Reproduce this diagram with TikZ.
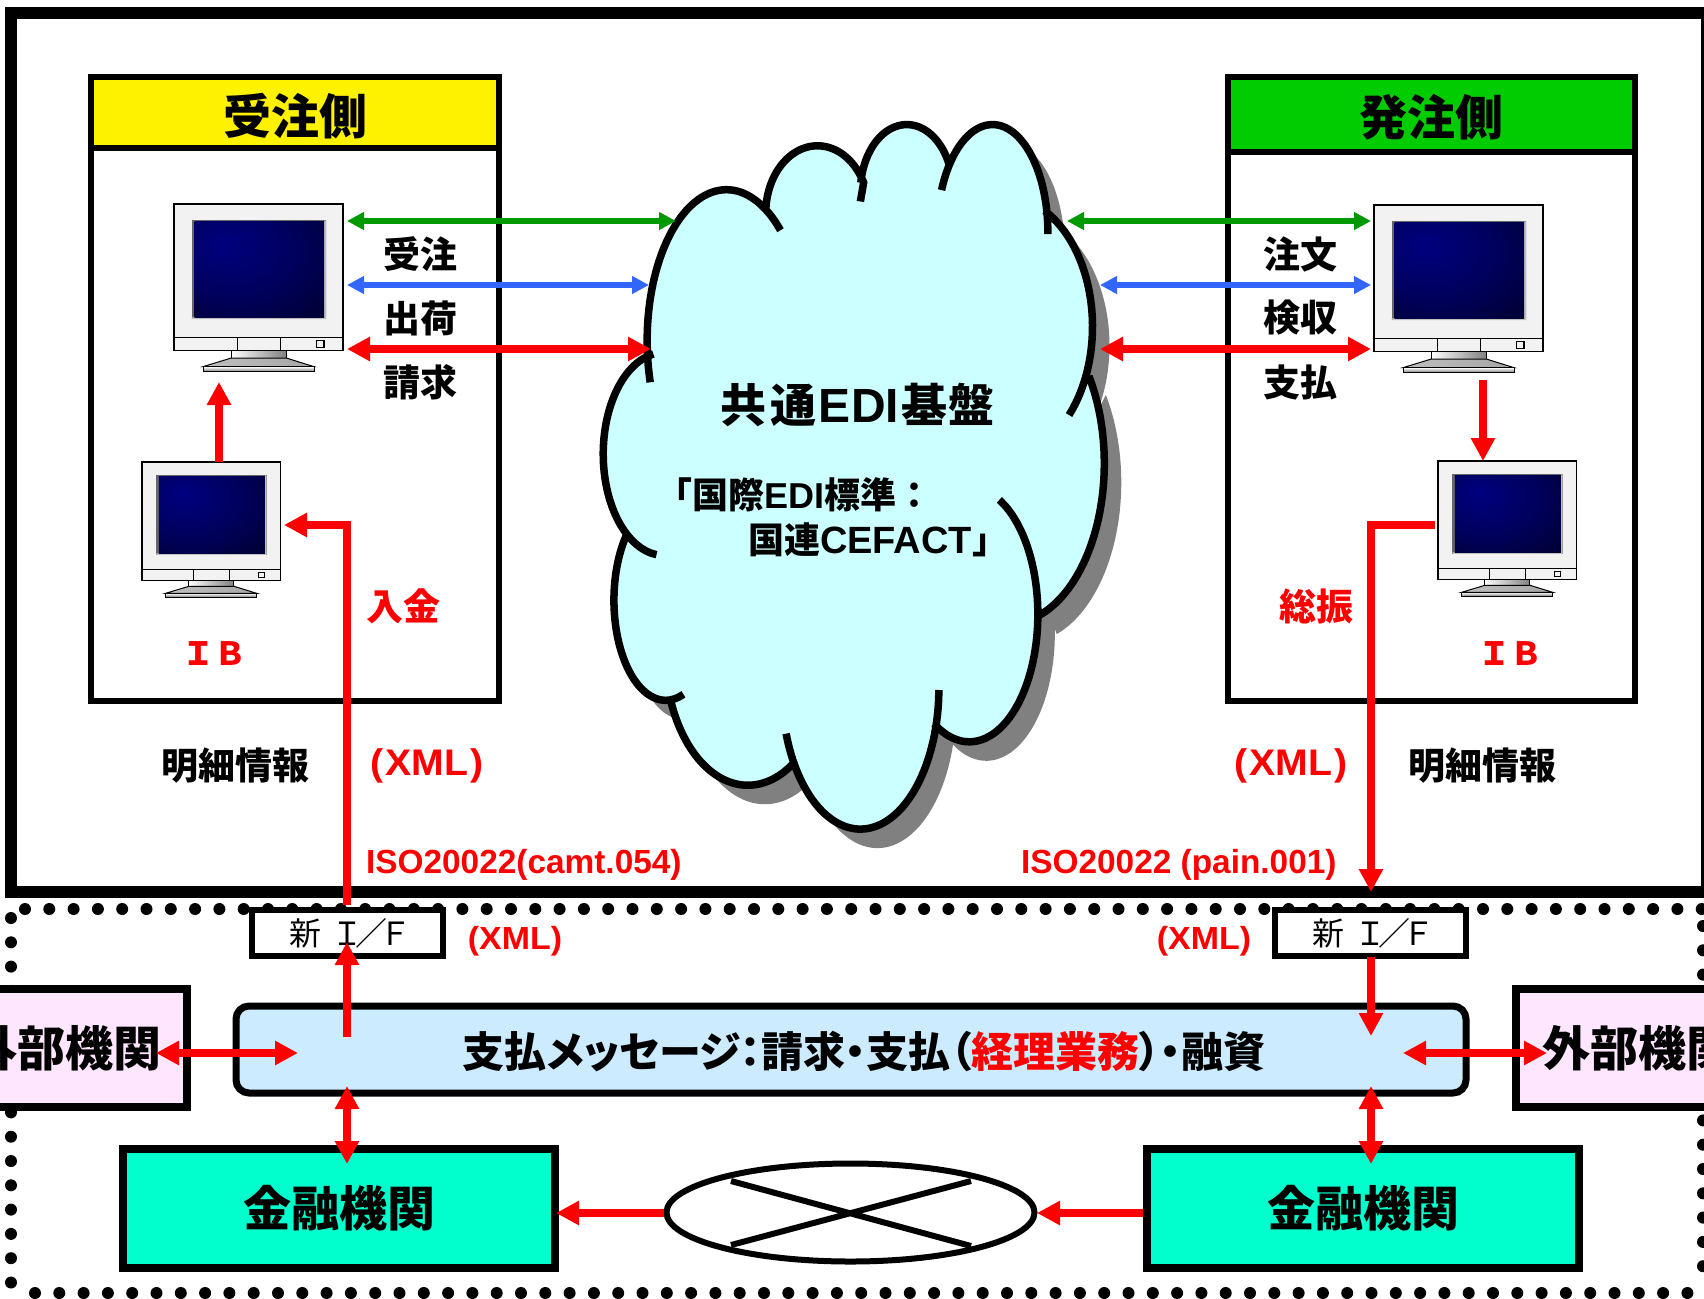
\documentclass[tikz,border=0pt]{standalone}
\usepackage{fontspec}
\setmainfont{Noto Sans CJK JP}
\newfontfamily\lat{Liberation Sans}
\newfontfamily\latw{Liberation Sans}[FakeStretch=1.06]
\newfontfamily\cjkp{Noto Sans CJK JP}[RawFeature=+palt]
\usetikzlibrary{arrows.meta,shapes.geometric}
\definecolor{bodyc}{HTML}{F2F2F2}
\definecolor{cloudc}{HTML}{CCFFFF}
\definecolor{shadowc}{HTML}{808080}
\definecolor{payc}{HTML}{CCEBFF}
\definecolor{extc}{HTML}{FFE6FF}
\definecolor{bankc}{HTML}{00FFCC}
\definecolor{sendc}{HTML}{00CC00}
\definecolor{arrg}{HTML}{009900}
\definecolor{arrb}{HTML}{3366FF}
\pgfdeclareradialshading{scrn}{\pgfpoint{-14bp}{14bp}}{rgb(0bp)=(0,0,.5);rgb(25bp)=(0,0,.36);rgb(50bp)=(0,0,.17);rgb(65bp)=(0,0,.08);rgb(100bp)=(0,0,.05)}
\newcommand\fs[1]{\fontsize{#1}{#1}\selectfont}
\tikzset{
  panel/.style={draw=black,rectangle,inner sep=0pt,outer sep=0pt,line width=3pt},
  heavybox/.style={draw=black,rectangle,inner sep=0pt,outer sep=0pt,line width=4pt,font=\fs{24}\bfseries},
  ifbox/.style={draw=black,fill=white,rectangle,inner sep=0pt,outer sep=0pt,line width=2.75pt,minimum width=95.5pt,minimum height=23pt,font=\cjkp\fs{16}},
  plain/.style={inner sep=0pt,outer sep=0pt},
  blab/.style={plain,font=\fs{18.5}\bfseries},
  rlab/.style={plain,font=\fs{18.5}\bfseries,text=red},
  iblab/.style={plain,font=\fs{16}\bfseries,text=red},
  headlab/.style={plain,font=\fs{24}\bfseries},
  xml/.style={plain,font=\latw\fs{18.5}\bfseries,text=red},
  xmls/.style={plain,font=\latw\fs{16}\bfseries,text=red},
  iso/.style={plain,font=\lat\fs{16.7}\bfseries,text=red},
  lb/.style={samples=30,smooth,variable=\t},
  green arr/.style={draw=arrg,line width=2.75pt,{Triangle[length=8.5pt,width=8.5pt]}-{Triangle[length=8.5pt,width=8.5pt]}},
  blue arr/.style={draw=arrb,line width=2.75pt,{Triangle[length=8.5pt,width=8.5pt]}-{Triangle[length=8.5pt,width=8.5pt]}},
  red two/.style={draw=red,line width=4pt,{Triangle[length=11.5pt,width=11.5pt]}-{Triangle[length=11.5pt,width=11.5pt]}},
  red one/.style={draw=red,line width=4pt,-{Triangle[length=11.5pt,width=11.5pt]}},
  dots/.style={line width=6pt,line cap=round,dash pattern=on 0pt off 12.15pt},
  monitor/.pic={
    \draw[fill=bodyc,line width=.6pt] (0,0) rectangle (507,440);
    \draw[line width=.6pt] (0,400) -- (507,400) (190,400) -- (190,440) (320,400) -- (320,440);
    \draw[fill=bodyc,line width=.6pt] (428,410) rectangle (450,430);
    \fill[black!60] (53,47) rectangle (457,345);
    \fill[black!25] (450,50) rectangle (457,345) (53,340) rectangle (457,345);
    \shade[shading=scrn] (62,53) rectangle (450,340);
    \shade[left color=white,right color=black!50,draw=black,line width=.5pt] (172,440) rectangle (337,462);
    \shade[left color=black!25,right color=black!35,draw=black,line width=.5pt] (172,462) -- (337,462) -- (420,488) -- (87,488) -- cycle;
    \shade[top color=white,bottom color=black!50,draw=black,line width=.5pt] (87,488) rectangle (420,502);
  }
}
\newcommand\cloudpath[1]{
  plot[domain=164:313,lb] ({410+222*cos(\t)},{510+320*sin(\t)}) #1
  plot[domain=183:333,lb] ({665+145*cos(\t)},{240+143*sin(\t)}) -- (785,215) #1
  plot[domain=188:337,lb] ({915+130*cos(\t)},{195+143*sin(\t)}) #1
  plot[domain=203:361,lb] ({1155+155*cos(\t)},{280+228*sin(\t)}) #1
  plot[domain=-63:43,lb] ({1190+245*cos(\t)},{480+275*sin(\t)}) #1
  plot[domain=-33:71,lb] ({1200+268*cos(\t)},{770+340*sin(\t)}) #1
  plot[domain=-64:121,lb] ({1090+192*cos(\t)},{1090+270*sin(\t)}) #1
  plot[domain=1:161,lb] ({785+220*cos(\t)},{1245+300*sin(\t)}) #1
  plot[domain=56:159,lb] ({470+232*cos(\t)},{1170+282*sin(\t)}) #1
  plot[domain=70:221,lb] ({240+145*cos(\t)},{1060+212*sin(\t)}) #1
  plot[domain=97:260,lb] ({235+170*cos(\t)},{750+215*sin(\t)})
}
\begin{document}
\begin{tikzpicture}[x=.5pt,y=-.5pt]
\useasboundingbox (0,0) rectangle (1704,1298);
\clip (0,0) rectangle (1704,1298);
\fill[white] (0,0) rectangle (1704,1298);

% dotted frame of the bank zone
\coordinate (dTL) at (25,909);   \coordinate (dTR) at (1704,909);
\coordinate (dLT) at (11,918);   \coordinate (dLB) at (11,1295);
\coordinate (dBL) at (35,1293);  \coordinate (dBR) at (1704,1293);
\coordinate (dRT) at (1703,926); \coordinate (dRB) at (1703,1290);
\draw[dots] (dTL) -- (dTR);
\draw[dots] (dLT) -- (dLB);
\draw[dots] (dBL) -- (dBR);
\draw[dots] (dRT) -- (dRB);

% outer frame
\node[draw=black,rectangle,inner sep=0pt,outer sep=0pt,line width=6pt,minimum width=848pt,minimum height=439.5pt] (outer) at (859,452.5) {};

% party panels
\node[panel,minimum width=204pt,minimum height=312pt] (panelL) at (295,389) {};
\node[panel,fill=yellow,minimum width=204pt,minimum height=35.5pt] (headL) at (295,112.5) {};
\node[headlab] (headLt) at (295,116.5) {受注側};
\node[panel,minimum width=203.5pt,minimum height=312pt] (panelR) at (1431.5,389) {};
\node[panel,fill=sendc,minimum width=203.5pt,minimum height=37.5pt] (headR) at (1431.5,114.5) {};
\node[headlab] (headRt) at (1431,117) {発注側};

% monitors
\pic[scale=.33333] at (174,204) {monitor};
\pic[xscale=.2728,yscale=.269] at (142,462) {monitor};
\pic[scale=.33333] at (1374,205) {monitor};
\pic[xscale=.2728,yscale=.269] at (1438,461) {monitor};

% cloud
\begin{scope}[shift={(597,119)},x=.17857pt,y=-.23596pt]
  \fill[shadowc] \cloudpath{--} -- cycle;
\end{scope}
\begin{scope}[shift={(580,100)},x=.17857pt,y=-.23596pt]
  \fill[cloudc] \cloudpath{--} -- cycle;
  \draw[line width=3.75pt] \cloudpath{};
\end{scope}
\node[plain,font=\fs{23}\bfseries] (edi) at (858,405) {共\kern2pt 通\kern1pt{\lat\fontsize{24}{24}\selectfont EDI}\kern1pt 基\kern1pt 盤};
\node[plain,anchor=west,font=\fs{18}\bfseries] (std1) at (656,495) {「国際{\lat EDI}標準：};
\node[plain,anchor=east,font=\fs{18}\bfseries] (std2) at (1008,540) {国連{\lat\fontsize{19}{19}\selectfont CEFACT}」};

% lower boxes
\node[ifbox] (ifL) at (347.5,933) {新\kern7pt Ｉ\kern-2pt ／\kern-2pt Ｆ};
\node[ifbox] (ifR) at (1370.5,933) {新\kern7pt Ｉ\kern-2pt ／\kern-2pt Ｆ};
\node[draw=black,fill=payc,rectangle,rounded corners=6.5pt,inner sep=0pt,outer sep=0pt,line width=3.5pt,minimum width=615pt,minimum height=43.5pt] (pay) at (851,1049.5) {};
\node[plain,font=\cjkp\fs{21}\bfseries] (paytext) at (864,1051) {支払メッセージ：請求・支払（\textcolor{red}{経理業務}）・融資};
\node[heavybox,fill=extc,minimum width=121.5pt,minimum height=59pt] (extL) at (65.5,1048) {外部機関};
\node[heavybox,fill=extc,minimum width=122pt,minimum height=59pt] (extR) at (1638,1048) {外部機関};
\node[heavybox,fill=bankc,minimum width=216pt,minimum height=59.5pt] (bankL) at (339,1208.5) {金融機関};
\node[heavybox,fill=bankc,minimum width=216pt,minimum height=59.5pt] (bankR) at (1363,1208.5) {金融機関};
\node[draw=black,fill=white,ellipse,inner sep=0pt,outer sep=0pt,line width=3pt,minimum width=184pt,minimum height=49pt] (wan) at (850.5,1212.5) {};
\coordinate (xa) at (731,1181); \coordinate (xb) at (971,1246);
\coordinate (xc) at (731,1245); \coordinate (xd) at (971,1181);
\draw[line width=3pt] (xa) -- (xb) (xc) -- (xd);

% connector ends
\coordinate (gL) at (347,221);  \coordinate (gCL) at (676,221);
\coordinate (bL) at (347,285);  \coordinate (bCL) at (649,285);
\coordinate (rL) at (347,349);  \coordinate (rCL) at (651,349);
\coordinate (gCR) at (1067,221); \coordinate (gR) at (1371,221);
\coordinate (bCR) at (1100,285); \coordinate (bR) at (1371,285);
\coordinate (rCR) at (1100,349); \coordinate (rR) at (1371,349);
\coordinate (upA) at (219,462); \coordinate (upB) at (219,382);
\coordinate (dnA) at (1483,380); \coordinate (dnB) at (1483,461);
\coordinate (ibL) at (284,525);
\coordinate (ibR) at (1435,525);
\coordinate (frameTip) at (1371,892);
\coordinate (ifLup) at (347,1037); \coordinate (ifLtip) at (347,942);
\coordinate (ifRdn) at (1371,957); \coordinate (ifRtip) at (1371,1036);
\coordinate (payLo) at (347,1086); \coordinate (bankLt) at (347,1164);
\coordinate (payRo) at (1371,1086); \coordinate (bankRt) at (1371,1164);
\coordinate (extLt) at (156,1053); \coordinate (payLt) at (298,1053);
\coordinate (extRt) at (1547,1053); \coordinate (payRt) at (1403,1053);
\coordinate (wanE) at (1037,1213); \coordinate (bankRw) at (1143,1213);
\coordinate (wanW) at (664,1213); \coordinate (bankLe) at (556,1213);
\coordinate (ifLtop) at (347,905);

% connectors
\draw[green arr] (gL) -- (gCL);
\draw[blue arr] (bL) -- (bCL);
\draw[red two] (rL) -- (rCL);
\draw[green arr] (gCR) -- (gR);
\draw[blue arr] (bCR) -- (bR);
\draw[red two] (rCR) -- (rR);
\draw[red one] (upA) -- (upB);
\draw[red one] (dnA) -- (dnB);
\draw[red one] (ifLtop) |- (ibL);
\draw[red one] (ibR) -| (frameTip);
\draw[red one] (ifLup) -- (ifLtip);
\draw[red one] (ifRdn) -- (ifRtip);
\draw[red two] (payLo) -- (bankLt);
\draw[red two] (payRo) -- (bankRt);
\draw[red two] (extLt) -- (payLt);
\draw[red two] (payRt) -- (extRt);
\draw[red one] (bankRw) -- (wanE);
\draw[red one] (wanW) -- (bankLe);

% labels
\node[blab] (t1) at (420,254) {受注};
\node[blab] (t2) at (420,318) {出荷};
\node[blab] (t3) at (420,382) {請求};
\node[blab] (t4) at (1300,254) {注文};
\node[blab] (t5) at (1300,318) {検収};
\node[blab] (t6) at (1300,382) {支払};
\node[rlab] (t7) at (403,606) {入金};
\node[rlab] (t8) at (1316,606) {総振};
\node[iblab] (t9) at (214,654) {ＩＢ};
\node[iblab] (t10) at (1510,654) {ＩＢ};
\node[blab] (t11) at (235,766) {明細情報};
\node[blab] (t12) at (1482,766) {明細情報};
\node[xml] (t13) at (427,766) {(\kern1pt XML\kern1pt)};
\node[xml] (t14) at (1291,766) {(\kern1pt XML\kern1pt)};
\node[iso,anchor=west] (t15) at (366,865) {ISO20022(camt.054)};
\node[iso,anchor=west] (t16) at (1021,865) {ISO20022 (pain.001)};
\node[xmls] (t17) at (515,941) {(XML)};
\node[xmls] (t18) at (1204,941) {(XML)};
\end{tikzpicture}
\end{document}
